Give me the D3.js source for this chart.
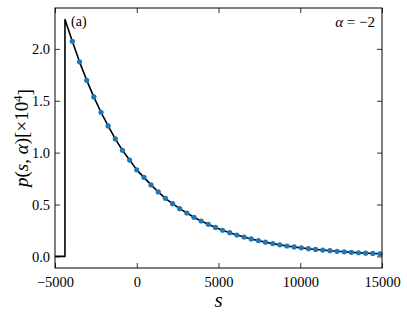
<!DOCTYPE html>
<html>
<head>
<meta charset="utf-8">
<script src="https://cdn.jsdelivr.net/npm/d3@7"></script>
<style>
  body { margin: 0; background: #fff; }
  svg { display: block; }
  svg text { font-family: "Liberation Serif", serif; fill: #000; }
  .tick line { stroke: #000; stroke-width: 0.8; }
</style>
</head>
<body>
<svg id="chart" width="407" height="315"></svg>
<script>
// sampled points (blue dots)
const dotS = [-3940, -3500, -3060, -2625, -2185, -1750, -1310, -875, -435, 0,
  440, 875, 1315, 1750, 2190, 2625, 3065, 3500, 3940, 4375,
  4815, 5250, 5690, 6125, 6565, 7000, 7440, 7875, 8315, 8750,
  9190, 9625, 10065, 10500, 10940, 11375, 11815, 12250, 12690, 13125,
  13565, 14000, 14440, 14875];
const dotP = [2.073, 1.875, 1.697, 1.537, 1.389, 1.257, 1.132, 1.022, 0.928, 0.834,
  0.762, 0.689, 0.621, 0.560, 0.508, 0.460, 0.418, 0.377, 0.341, 0.309,
  0.279, 0.252, 0.228, 0.206, 0.187, 0.168, 0.152, 0.137, 0.123, 0.111,
  0.100, 0.091, 0.082, 0.074, 0.067, 0.061, 0.055, 0.049, 0.044, 0.039,
  0.035, 0.031, 0.028, 0.025];

// theory curve (black line)
const lineS = [-5000, -4390, -4390].concat(dotS, [15000]);
const lineP = [0, 0, 2.283].concat(dotP, [0.024]);

const xTicks = [-5000, 0, 5000, 10000, 15000];
const yTicks = [0.0, 0.5, 1.0, 1.5, 2.0];

const MARGIN = { top: 8, right: 25, bottom: 47, left: 55 };
const OUTER_WIDTH = 407, OUTER_HEIGHT = 315,
  INNER_WIDTH = OUTER_WIDTH - MARGIN.left - MARGIN.right,
  INNER_HEIGHT = OUTER_HEIGHT - MARGIN.top - MARGIN.bottom;
const FONT = 'Liberation Serif';

const xScale = d3.scaleLinear().domain([-5000, 15000]).range([0, INNER_WIDTH]);
const yScale = d3.scaleLinear().domain([-0.112, 2.394]).range([INNER_HEIGHT, 0]);

const svg = d3.select('#chart')
  .append('g')
  .attr('transform', `translate(${MARGIN.left}, ${MARGIN.top})`);

const fmtX = d => d3.format('d')(d).replace('-', '\u2212');
const serif = g => g.attr('font-family', FONT).attr('font-size', 14.5);

// axes, ticks pointing inward on all sides
svg.append('g')
  .attr('transform', `translate(0,${INNER_HEIGHT})`)
  .call(d3.axisBottom(xScale).tickValues(xTicks).tickFormat(fmtX).tickSizeInner(-5).tickSizeOuter(0).tickPadding(9))
  .call(serif)
  .call(g => g.select('.domain').remove());
svg.append('g')
  .call(d3.axisTop(xScale).tickValues(xTicks).tickFormat('').tickSizeInner(-5).tickSizeOuter(0))
  .call(g => g.select('.domain').remove());
svg.append('g')
  .call(d3.axisLeft(yScale).tickValues(yTicks).tickFormat(d3.format('.1f')).tickSizeInner(-5).tickSizeOuter(0).tickPadding(5))
  .call(serif)
  .call(g => g.select('.domain').remove());
svg.append('g')
  .attr('transform', `translate(${INNER_WIDTH},0)`)
  .call(d3.axisRight(yScale).tickValues(yTicks).tickFormat('').tickSizeInner(-5).tickSizeOuter(0))
  .call(g => g.select('.domain').remove());

// theory line
const linePts = lineS.map((s, i) => [s, lineP[i]]);
svg.append('path')
  .datum(linePts)
  .attr('fill', 'none')
  .attr('stroke', '#000')
  .attr('stroke-width', 1.6)
  .attr('stroke-linejoin', 'round')
  .attr('d', d3.line().x(d => xScale(d[0])).y(d => yScale(d[1])));

// simulation dots
svg.selectAll('.dot')
  .data(dotS.map((s, i) => [s, dotP[i]]))
  .enter().append('circle')
  .attr('class', 'dot')
  .attr('r', 2.6)
  .attr('cx', d => xScale(d[0]))
  .attr('cy', d => yScale(d[1]))
  .style('fill', '#1f77b4');

// frame
svg.append('rect')
  .attr('width', INNER_WIDTH)
  .attr('height', INNER_HEIGHT)
  .attr('fill', 'none')
  .attr('stroke', '#000')
  .attr('stroke-width', 1);

// annotations
svg.append('text')
  .attr('x', 16)
  .attr('y', 18)
  .attr('font-family', FONT)
  .style('font-size', '14px')
  .text('(a)');

const alphaLabel = svg.append('text')
  .attr('x', INNER_WIDTH - 7)
  .attr('y', 19)
  .attr('text-anchor', 'end')
  .attr('font-family', FONT)
  .style('font-size', '15px');
alphaLabel.append('tspan').style('font-style', 'italic').text('α');
alphaLabel.append('tspan').text(' = \u22122');

// axis labels
svg.append('text')
  .attr('x', INNER_WIDTH / 2)
  .attr('y', INNER_HEIGHT + 39)
  .attr('text-anchor', 'middle')
  .attr('font-family', FONT)
  .style('font-size', '21px')
  .style('font-style', 'italic')
  .text('s');

const yLabel = svg.append('text')
  .attr('transform', `translate(-27,${INNER_HEIGHT / 2}) rotate(-90)`)
  .attr('text-anchor', 'middle')
  .attr('font-family', FONT)
  .style('font-size', '19px');
yLabel.append('tspan').style('font-style', 'italic').text('p');
yLabel.append('tspan').text('(');
yLabel.append('tspan').style('font-style', 'italic').text('s');
yLabel.append('tspan').text(', ');
yLabel.append('tspan').style('font-style', 'italic').text('α');
yLabel.append('tspan').text(')[×10');
yLabel.append('tspan').attr('dy', '-0.45em').style('font-size', '13px').text('4');
yLabel.append('tspan').attr('dy', '0.45em').text(']');
</script>
</body>
</html>
